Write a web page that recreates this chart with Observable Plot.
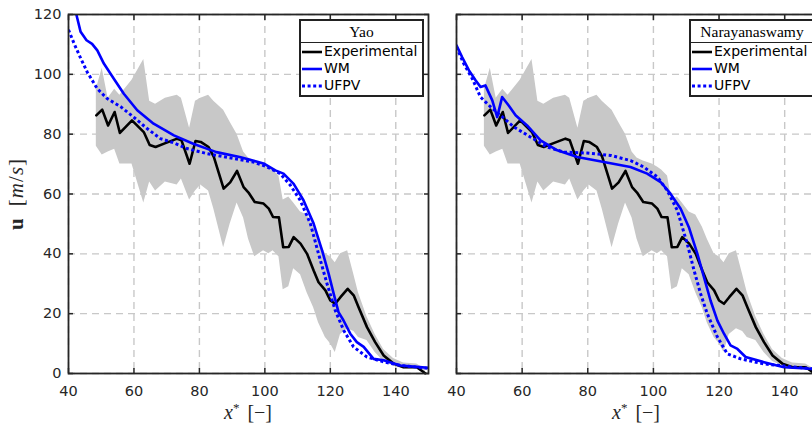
<!DOCTYPE html>
<html><head><meta charset="utf-8">
<script src="https://cdn.jsdelivr.net/npm/d3@7"></script>
<script src="https://cdn.jsdelivr.net/npm/@observablehq/plot@0.6"></script>
<style>
body{margin:0;background:#fff;overflow:hidden}
#wrap{position:relative;width:812px;height:424px;overflow:hidden;background:#fff}
.panel{position:absolute;top:0}
.legend{position:absolute;top:19px;border:2px solid #222;background:#fff;font-family:"DejaVu Sans",sans-serif;font-size:14px;color:#000;box-sizing:border-box;height:78px}
.legend .ttl{font-family:"Liberation Serif","DejaVu Serif",serif;font-size:15.5px;text-align:center;height:21px;line-height:21px;border-bottom:1.5px solid #222}
.legend .row{display:flex;align-items:center;height:17px;line-height:17px;padding-left:1px}
.legend svg{margin-right:2px}
.xl{position:absolute;top:402px;line-height:1;font-family:"Liberation Serif","DejaVu Serif",serif;font-size:20px;color:#262626;transform:translateX(-50%);white-space:nowrap;word-spacing:3px}
.xl .st{position:relative;top:-7px;font-size:13px}
.yl{position:absolute;left:16px;top:194px;line-height:1;font-family:"Liberation Serif","DejaVu Serif",serif;font-size:21px;color:#262626;transform:translate(-50%,-50%) rotate(-90deg);white-space:nowrap;word-spacing:5px;letter-spacing:1px}
</style>
</head><body>
<div id="wrap"></div>
<script>
// ---- data ----
const xTicks = [40, 60, 80, 100, 120, 140];
const yTicks = [0, 20, 40, 60, 80, 100, 120];

const expX = [48.5,50.3,52.1,54.1,55.7,59.4,63.0,64.8,66.6,69.6,73.2,74.5,77.0,78.8,80.4,82.8,84.4,87.4,89.4,91.5,93.5,95.0,96.9,99.6,101.2,102.5,104.3,105.6,107.3,108.8,110.9,112.9,114.9,116.4,118.5,120.0,121.5,123.1,125.3,127.2,128.6,131.2,133.7,136.3,139.3,142.4,146.4,149.0];
const expY = [86.3,88.2,82.9,87.4,80.4,84.6,80.7,76.4,75.7,77.0,78.5,78.0,70.1,77.7,77.4,75.7,72.4,61.8,63.9,67.7,62.3,60.5,57.3,56.8,55.1,52.3,52.2,42.2,42.3,45.6,43.4,40.0,34.4,30.5,27.8,24.4,23.3,25.5,28.3,26.0,22.2,15.5,10.5,6.0,3.3,2.1,2.1,0.1];
const expHi = [95,102,92,95,93,98,105,91,90,92,93,92,82,91,92,93,91,88,84,80,74,72,71,70,69,68,66,58,59,57,54,53,49,45,40,39,37,40,41,33,27,19,13,8,5,3.5,3.2,1.5];
const expLo = [76,73,74,75,70,70,57,64,61,64,63,65,58,61,63,61,55,42,50,57,52,45,39,41,40,41,39,28,29,35,33,27,22,17,12,10,7,13,15,14,12,11,7,4,2.5,1.5,1.6,0];

// Yao panel
const yaoWmX = [40,42.4,43.7,45.5,47.2,48.8,50.8,53.8,56.9,61,66,72.2,78.1,85.2,92.3,99.6,103.2,105.7,108.8,111.8,114.9,117.5,119.5,121,122.5,124,126.1,128.1,130.2,133.2,136.3,141.4,146.4,150];
const yaoWmY = [128,120,114.2,111.4,110.2,108,103.6,98.6,93.5,88,83.5,79.6,76.8,74,72.4,70.2,67.9,66.8,63.4,57.9,50.1,41.1,33.3,26.8,20.5,17.8,13.3,10.5,8.9,4.9,4.4,2.7,2.2,1.9];
const yaoUfX = [40,41.7,43.8,45.7,48.8,51.8,55.9,59.9,64,68.1,72.2,76.2,82.3,90.4,96.5,100.6,104.7,107.8,110.8,113.9,116.4,119,121.5,124.1,127.1,131.2,136.3,141.4,150];
const yaoUfY = [114.9,110.3,105.2,100.8,95.2,91.9,89.2,85.7,81.9,78.5,77.1,75.2,73.5,71.9,70.7,69.1,66.8,62.9,57.9,50.1,40,30,21.1,14.4,8.9,5.5,3.9,2.7,1.7];

// Narayanaswamy panel
const narWmX = [40,41.7,43.8,45.8,47.3,48.8,50.9,52.4,53.9,55.9,58,61.5,65.6,70.7,76.8,84.9,93,98.1,102.2,105.2,108.3,110.8,113.4,115.4,117.4,119.5,121.5,123.5,125.6,128.1,133.7,139.8,147.9,150];
const narWmY = [109.7,105.8,101.3,98,95.8,96.3,91.3,85.7,92.4,89.6,86.3,82.9,77.9,74.6,72.4,70.7,69,66.8,64,60.1,55.1,48.9,40,32.2,24.4,17.7,13.3,9.4,8.2,5.5,3.8,2.1,1.6,1.5];
const narUfX = [40,42.2,44.8,47.3,50.4,53.4,57.5,62.6,67.6,72.7,79.8,87,93,97.1,101.2,104.2,107.3,110.3,112.4,114.4,116.4,119.5,122.5,126.6,133.7,147.9,150];
const narUfY = [109.1,103.6,98.6,92.4,89.1,86.3,82.4,79,75.7,74,73.7,72.9,71.2,69,65.7,61.2,54.5,43.4,34.4,26.6,20,12.2,6.6,4.9,3.2,1.6,1.5];

const seriesNames = ["Experimental", "WM", "UFPV"];
const panelTitles = ["Yao", "Narayanaswamy"];

// ---- build ----
const rows = (xs, ys) => xs.map((x, i) => ({x, y: ys[i]}));
const expRows = expX.map((x, i) => ({x, y: expY[i], hi: expHi[i], lo: expLo[i]}));

const FRAME = "#262626";
const BLUE = "#0000ff";
const DOT = "3,2.6";

function panel(wm, uf, showY, width, ml, mr) {
  const gridStyle = {stroke: "#c8c8c8", strokeOpacity: 1, strokeWidth: 1.4, strokeDasharray: "7,5"};
  const fs = 14.5;
  const none = () => "";
  return Plot.plot({
    width, height: 424,
    marginLeft: ml, marginRight: mr, marginTop: 14, marginBottom: 51,
    x: {domain: [40, 150]},
    y: {domain: [0, 120]},
    style: {fontFamily: "DejaVu Sans, sans-serif", fontSize: fs + "px", color: FRAME, background: "transparent", overflow: "visible"},
    marks: [
      Plot.gridX(xTicks, gridStyle),
      Plot.gridY(yTicks, gridStyle),
      Plot.areaY(expRows, {x: "x", y1: "lo", y2: "hi", fill: "#c8c8c8"}),
      Plot.line(expRows, {x: "x", y: "y", stroke: "#000", strokeWidth: 2.6}),
      Plot.line(wm, {x: "x", y: "y", stroke: BLUE, strokeWidth: 2.6, clip: true}),
      Plot.line(uf, {x: "x", y: "y", stroke: BLUE, strokeWidth: 3, strokeDasharray: DOT, strokeLinecap: "butt", strokeLinejoin: "miter", clip: true}),
      Plot.frame({stroke: FRAME, strokeWidth: 1.8}),
      Plot.axisX(xTicks, {anchor: "bottom", tickSize: 0, tickPadding: 12, label: null, fontSize: fs}),
      Plot.axisX(xTicks, {anchor: "bottom", tickSize: -5, tickFormat: none, label: null, strokeWidth: 1.5}),
      Plot.axisX(xTicks, {anchor: "top", tickSize: -5, tickFormat: none, label: null, strokeWidth: 1.5}),
      Plot.axisY(yTicks, {anchor: "left", tickSize: 0, tickPadding: 7, label: null, fontSize: fs, tickFormat: showY ? (d => String(d)) : none}),
      Plot.axisY(yTicks, {anchor: "left", tickSize: -5, tickFormat: none, label: null, strokeWidth: 1.5}),
      Plot.axisY(yTicks, {anchor: "right", tickSize: -5, tickFormat: none, label: null, strokeWidth: 1.5})
    ]
  });
}

const wrap = document.getElementById("wrap");

const p1 = panel(rows(yaoWmX, yaoWmY), rows(yaoUfX, yaoUfY), true, 440, 68, 12);
p1.classList.add("panel"); p1.style.left = "0px";
wrap.appendChild(p1);

const p2 = panel(rows(narWmX, narWmY), rows(narUfX, narUfY), false, 390, 26, 3);
p2.classList.add("panel"); p2.style.left = "430px";
wrap.appendChild(p2);

function legend(title, left, width) {
  const d = document.createElement("div");
  d.className = "legend";
  d.style.left = left + "px";
  d.style.width = width + "px";
  const t = document.createElement("div");
  t.className = "ttl"; t.textContent = title;
  d.appendChild(t);
  const styles = [
    {stroke: "#000", w: 2.6, dash: null},
    {stroke: BLUE, w: 2.6, dash: null},
    {stroke: BLUE, w: 3, dash: DOT}
  ];
  seriesNames.forEach((name, i) => {
    const r = document.createElement("div");
    r.className = "row";
    const s = styles[i];
    r.innerHTML = `<svg width="20" height="8"><line x1="0" x2="20" y1="4" y2="4" stroke="${s.stroke}" stroke-width="${s.w}" ${s.dash ? `stroke-dasharray="${s.dash}"` : ""}/></svg><span>${name}</span>`;
    d.appendChild(r);
  });
  wrap.appendChild(d);
}
legend(panelTitles[0], 299, 125);
legend(panelTitles[1], 689, 126);

function xlabel(cx) {
  const d = document.createElement("div");
  d.className = "xl";
  d.style.left = cx + "px";
  d.innerHTML = '<i>x</i><span class="st">*</span> [\u2212]';
  wrap.appendChild(d);
}
xlabel(248);
xlabel(636);

const yl = document.createElement("div");
yl.className = "yl";
yl.innerHTML = '<b>u</b> [<i>m</i>/<i>s</i>]';
wrap.appendChild(yl);
</script>
</body></html>
